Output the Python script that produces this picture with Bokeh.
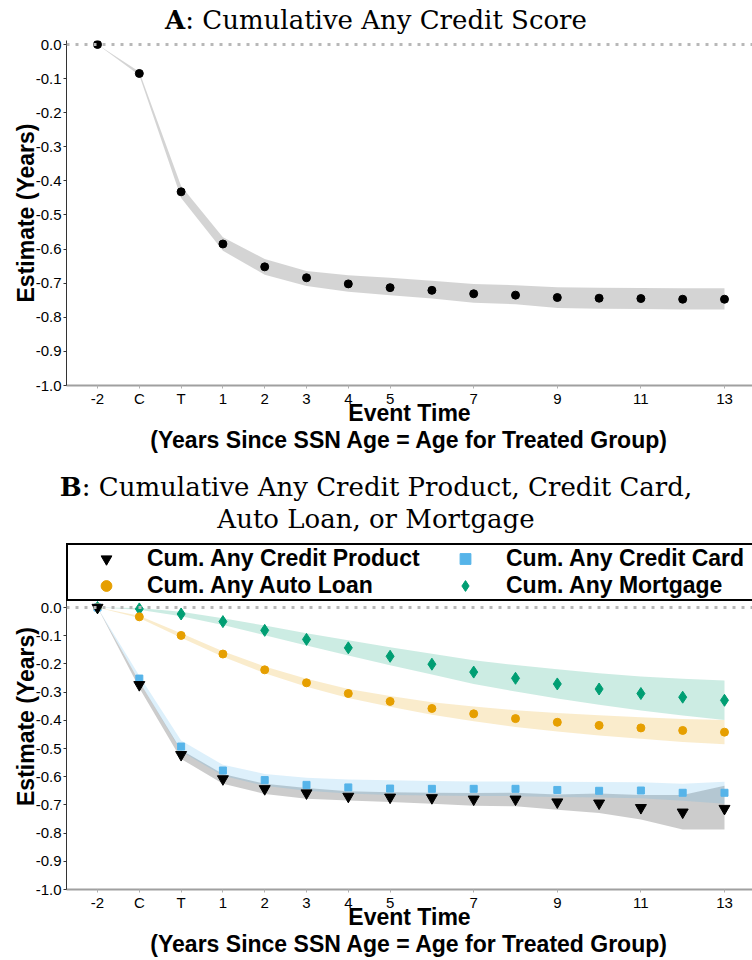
from bokeh.plotting import figure
from bokeh.models import Range1d, Span, Div, Legend, LegendItem, FixedTicker, PrintfTickFormatter
from bokeh.layouts import column
from bokeh.embed import file_html
from bokeh.resources import INLINE

# ---------------- data ----------------
event_labels = ["-2", "C", "T", "1", "2", "3", "4", "5", "6", "7", "8", "9", "10", "11", "12", "13"]
shown_labels = ["-2", "C", "T", "1", "2", "3", "4", "5", "7", "9", "11", "13"]
y_ticks = [0.0, -0.1, -0.2, -0.3, -0.4, -0.5, -0.6, -0.7, -0.8, -0.9, -1.0]

# Panel A: cumulative any credit score
a_est = [0, -0.085, -0.432, -0.585, -0.652, -0.684, -0.702, -0.713, -0.721, -0.731, -0.735, -0.742, -0.744, -0.745, -0.747, -0.747]
a_lo = [0, -0.09, -0.45, -0.605, -0.675, -0.708, -0.725, -0.735, -0.745, -0.757, -0.762, -0.773, -0.775, -0.776, -0.777, -0.777]
a_hi = [0, -0.08, -0.415, -0.565, -0.629, -0.664, -0.677, -0.684, -0.693, -0.702, -0.706, -0.712, -0.713, -0.714, -0.715, -0.715]

# Panel B
prod_est = [0, -0.274, -0.522, -0.608, -0.643, -0.658, -0.670, -0.673, -0.675, -0.680, -0.680, -0.690, -0.694, -0.710, -0.726, -0.713]
prod_lo = [0, -0.285, -0.537, -0.625, -0.661, -0.678, -0.684, -0.690, -0.696, -0.703, -0.705, -0.717, -0.729, -0.752, -0.787, -0.787]
prod_hi = [0, -0.262, -0.505, -0.590, -0.625, -0.640, -0.652, -0.655, -0.657, -0.658, -0.657, -0.663, -0.660, -0.665, -0.665, -0.632]

card_est = [0, -0.252, -0.493, -0.578, -0.612, -0.629, -0.638, -0.642, -0.643, -0.643, -0.643, -0.647, -0.650, -0.649, -0.657, -0.657]
card_lo = [0, -0.262, -0.510, -0.597, -0.632, -0.650, -0.660, -0.665, -0.667, -0.668, -0.669, -0.672, -0.674, -0.676, -0.685, -0.696]
card_hi = [0, -0.242, -0.472, -0.558, -0.590, -0.604, -0.610, -0.613, -0.615, -0.617, -0.617, -0.618, -0.619, -0.620, -0.625, -0.618]

auto_est = [0, -0.033, -0.099, -0.165, -0.221, -0.267, -0.305, -0.333, -0.358, -0.377, -0.394, -0.407, -0.418, -0.427, -0.436, -0.442]
auto_lo = [0, -0.037, -0.107, -0.175, -0.233, -0.281, -0.321, -0.352, -0.380, -0.403, -0.424, -0.440, -0.454, -0.465, -0.477, -0.485]
auto_hi = [0, -0.029, -0.091, -0.155, -0.209, -0.253, -0.289, -0.314, -0.336, -0.351, -0.364, -0.374, -0.382, -0.389, -0.395, -0.399]

mort_est = [0, -0.005, -0.023, -0.050, -0.081, -0.113, -0.143, -0.173, -0.201, -0.229, -0.251, -0.271, -0.289, -0.305, -0.318, -0.329]
mort_lo = [0, -0.008, -0.031, -0.062, -0.098, -0.135, -0.170, -0.205, -0.238, -0.271, -0.298, -0.323, -0.345, -0.365, -0.383, -0.399]
mort_hi = [0, -0.002, -0.015, -0.038, -0.064, -0.091, -0.116, -0.141, -0.164, -0.187, -0.204, -0.219, -0.233, -0.245, -0.253, -0.259]

legend_labels = ["Cum. Any Credit Product", "Cum. Any Credit Card", "Cum. Any Auto Loan", "Cum. Any Mortgage"]

# ---------------- helpers ----------------
x = list(range(len(event_labels)))
tick_pos = [event_labels.index(s) for s in shown_labels]
overrides = {event_labels.index(s): s for s in shown_labels}

SANS = "Liberation Sans"


def make_fig(height, border_top, border_bottom, y_end):
    p = figure(width=752, height=height, output_backend="svg", toolbar_location=None,
               x_range=Range1d(-0.742, 15.67), y_range=Range1d(-1.0, y_end),
               min_border_left=66, min_border_right=0, min_border_top=border_top,
               min_border_bottom=border_bottom)
    p.outline_line_color = None
    p.xgrid.visible = False
    p.ygrid.visible = False
    p.background_fill_color = "white"
    p.border_fill_color = "white"

    p.xaxis.ticker = FixedTicker(ticks=tick_pos)
    p.xaxis.major_label_overrides = overrides
    p.xaxis.minor_tick_line_color = None
    p.xaxis.major_tick_in = 0
    p.xaxis.major_tick_out = 3
    p.xaxis.major_tick_line_color = "#b0b0b0"
    p.xaxis.axis_line_color = "#a0a0a0"
    p.xaxis.axis_line_width = 2
    p.xaxis.major_label_text_font = SANS
    p.xaxis.major_label_text_font_size = "15px"
    p.xaxis.major_label_text_color = "black"
    p.xaxis.major_label_standoff = 1
    p.xaxis.axis_label = "Event Time\n(Years Since SSN Age = Age for Treated Group)"
    p.xaxis.axis_label_text_font = SANS
    p.xaxis.axis_label_text_font_style = "bold"
    p.xaxis.axis_label_text_font_size = "23px"
    p.xaxis.axis_label_text_color = "black"
    p.xaxis.axis_label_standoff = -10
    p.xaxis.axis_label_text_line_height = 1.05

    p.yaxis.ticker = FixedTicker(ticks=y_ticks)
    p.yaxis.formatter = PrintfTickFormatter(format="%.1f")
    p.yaxis.minor_tick_line_color = None
    p.yaxis.major_tick_in = 0
    p.yaxis.major_tick_out = 3
    p.yaxis.major_tick_line_color = "#333333"
    p.yaxis.axis_line_color = "#333333"
    p.yaxis.major_label_text_font = SANS
    p.yaxis.major_label_text_font_size = "15px"
    p.yaxis.major_label_text_color = "black"
    p.yaxis.major_label_standoff = 2
    p.yaxis.axis_label = "Estimate (Years)"
    p.yaxis.axis_label_text_font = SANS
    p.yaxis.axis_label_text_font_style = "bold"
    p.yaxis.axis_label_text_font_size = "23px"
    p.yaxis.axis_label_text_color = "black"
    p.yaxis.axis_label_standoff = -6

    p.add_layout(Span(location=0, dimension="width", line_color="#b8b8b8",
                      line_width=3, line_dash="3 6"))
    return p


TITLE_STYLE = ("font-family:'DejaVu Serif';font-size:26px;text-align:center;"
               "width:752px;color:black;")

# ---------------- Panel A ----------------
title_a = Div(text='<div style="' + TITLE_STYLE + 'padding-top:6px;line-height:28px">'
                   '<b>A</b>: Cumulative Any Credit Score</div>',
              width=752, height=36, margin=0)

pa = make_fig(419, 4, 69, 0.0117)
pa.varea(x=x, y1=a_lo, y2=a_hi, fill_color="black", fill_alpha=0.17)
pa.scatter(x=x, y=a_est, marker="circle", size=8, color="black")

# ---------------- Panel B ----------------
title_b = Div(text='<div style="' + TITLE_STYLE + 'padding-top:16px;line-height:32px">'
                   '<b>B</b>: Cumulative Any Credit Product, Credit Card,<br>Auto Loan, or Mortgage</div>',
              width=752, height=85, margin=0)

# frame top sits at the legend's top edge; 0.0 lies 64 px below it
pb = make_fig(420, 3, 71, 0.227)

pb.varea(x=x, y1=prod_lo, y2=prod_hi, fill_color="black", fill_alpha=0.2)
pb.varea(x=x, y1=card_lo, y2=card_hi, fill_color="#56B4E9", fill_alpha=0.2)
pb.varea(x=x, y1=auto_lo, y2=auto_hi, fill_color="#E69F00", fill_alpha=0.2)
pb.varea(x=x, y1=mort_lo, y2=mort_hi, fill_color="#009E73", fill_alpha=0.2)

r_mort = pb.scatter(x=x, y=mort_est, marker="diamond", size=12, color="#009E73")
r_auto = pb.scatter(x=x, y=auto_est, marker="circle", size=8, color="#E69F00")
r_card = pb.scatter(x=x, y=card_est, marker="square", size=7, color="#56B4E9")
r_prod = pb.scatter(x=x, y=prod_est, marker="inverted_triangle", size=11, color="black")

legend = Legend(items=[LegendItem(label=legend_labels[0], renderers=[r_prod]),
                       LegendItem(label=legend_labels[1], renderers=[r_card]),
                       LegendItem(label=legend_labels[2], renderers=[r_auto]),
                       LegendItem(label=legend_labels[3], renderers=[r_mort])],
                orientation="horizontal", ncols=2, location="top_left",
                glyph_width=76, glyph_height=27, label_height=27, label_width=280,
                label_standoff=3, spacing=0, padding=0, margin=0,
                label_text_font=SANS, label_text_font_style="bold",
                label_text_font_size="23px", label_text_color="black",
                border_line_color="black", border_line_width=2, border_line_alpha=1,
                background_fill_color="white", background_fill_alpha=1)
pb.add_layout(legend, "center")

layout = column(title_a, pa, title_b, pb, spacing=0)

open("out.html", "w").write(file_html(layout, INLINE))
